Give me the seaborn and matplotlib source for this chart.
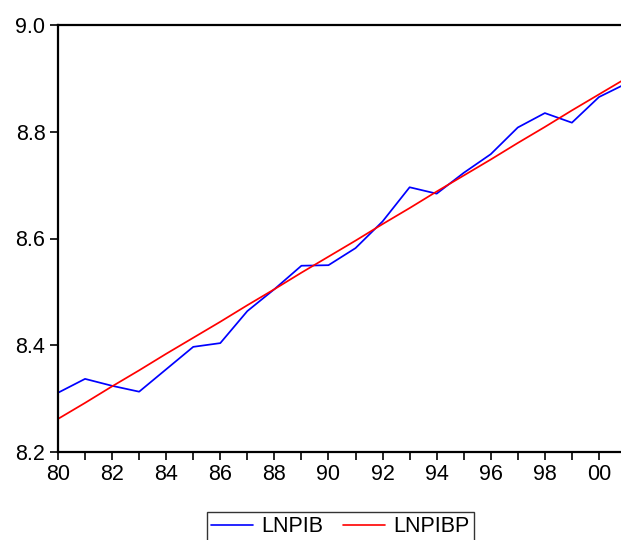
import matplotlib
matplotlib.use("Agg")
import matplotlib.pyplot as plt
import seaborn as sns
import pandas as pd

# Annual series 1980-2001
years = list(range(1980, 2002))
lnpib = [8.311, 8.337, 8.324, 8.313, 8.355, 8.397, 8.404, 8.464, 8.505, 8.549, 8.550,
         8.582, 8.632, 8.696, 8.684, 8.723, 8.758, 8.808, 8.835, 8.817, 8.865, 8.890]
lnpibp = [8.262, 8.292, 8.323, 8.353, 8.384, 8.414, 8.444, 8.475, 8.505, 8.536, 8.566,
          8.596, 8.627, 8.657, 8.688, 8.718, 8.748, 8.779, 8.809, 8.840, 8.870, 8.900]
tick_labels = ["80", "82", "84", "86", "88", "90", "92", "94", "96", "98", "00"]

df = pd.DataFrame({"year": years, "LNPIB": lnpib, "LNPIBP": lnpibp})
long = df.melt(id_vars="year", var_name="series", value_name="value")

sns.set_style("ticks")
plt.rcParams["font.family"] = ["Liberation Sans", "DejaVu Sans"]
plt.rcParams["text.color"] = "black"

fig = plt.figure(figsize=(6.21, 5.4), dpi=100)
# axes runs past the right edge, as in the cropped reference
ax = fig.add_axes([58 / 621, 88 / 540, 568 / 621, 427 / 540])

sns.lineplot(data=long, x="year", y="value", hue="series",
             palette={"LNPIB": "#0000ff", "LNPIBP": "#ff0000"},
             linewidth=1.25, ax=ax, legend=False)

ax.set_xlim(1980, 2001)
ax.set_ylim(8.2, 9.0)
ax.set_xticks(years)
ax.set_xticklabels([tick_labels[i // 2] if i % 2 == 0 else "" for i in range(len(years))])
ax.set_yticks([8.2, 8.4, 8.6, 8.8, 9.0])
ax.set_yticklabels(["8.2", "8.4", "8.6", "8.8", "9.0"])
ax.set_xlabel("")
ax.set_ylabel("")
ax.tick_params(direction="out", length=6, width=1.2, labelsize=15.5, pad=3,
               color="black", labelcolor="black")

for side in ["left", "bottom", "top"]:
    ax.spines[side].set_visible(True)
    ax.spines[side].set_linewidth(1.6)
    ax.spines[side].set_color("black")
ax.spines["right"].set_visible(False)

handles = [plt.Line2D([], [], color="#0000ff", lw=1.2),
           plt.Line2D([], [], color="#ff0000", lw=1.2)]
leg = fig.legend(handles, ["LNPIB", "LNPIBP"], loc="upper center",
                 bbox_to_anchor=(340.5 / 621, 28 / 540), ncol=2, fontsize=15.5,
                 frameon=True, fancybox=False, handlelength=1.95,
                 handletextpad=0.4, columnspacing=0.9, borderpad=0.2,
                 borderaxespad=0, labelcolor="black")
leg.get_frame().set_edgecolor("black")
leg.get_frame().set_linewidth(1.0)

fig.savefig("out.png", dpi=100)
